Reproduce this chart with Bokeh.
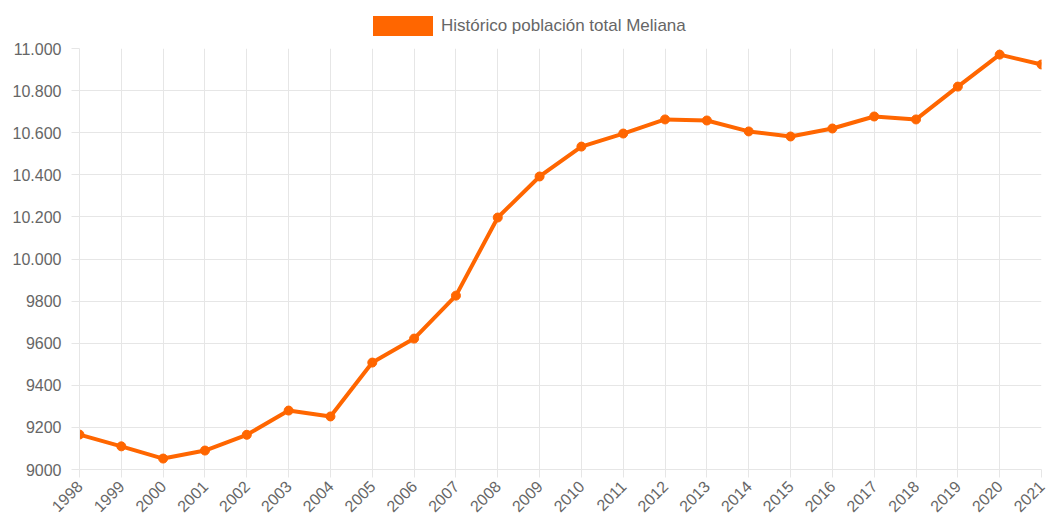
from bokeh.plotting import figure
from bokeh.layouts import column
from bokeh.models import ColumnDataSource, FixedTicker, Legend, LegendItem
from bokeh.embed import file_html
from bokeh.resources import INLINE
import math

years = [1998, 1999, 2000, 2001, 2002, 2003, 2004, 2005, 2006, 2007, 2008, 2009,
         2010, 2011, 2012, 2013, 2014, 2015, 2016, 2017, 2018, 2019, 2020, 2021]
population = [9166, 9110, 9052, 9090, 9165, 9280, 9252, 9508, 9622, 9826, 10197, 10392,
              10534, 10596, 10663, 10658, 10606, 10582, 10620, 10677, 10663, 10819, 10971, 10924]
y_ticks = [9000, 9200, 9400, 9600, 9800, 10000, 10200, 10400, 10600, 10800, 11000]
y_tick_labels = ["9000", "9200", "9400", "9600", "9800", "10.000", "10.200",
                 "10.400", "10.600", "10.800", "11.000"]
series_label = "Histórico población total Meliana"

ORANGE = "#ff6600"
TEXT = "#666666"
GRID = "#e6e6e6"
FONT = "Liberation Sans"

src = ColumnDataSource(dict(x=years, y=population))

# ---- legend strip (own small figure) ----
lg = figure(width=1048, height=42, output_backend="svg", toolbar_location=None,
            x_range=(years[0], years[-1]), y_range=(y_ticks[0], y_ticks[-1]),
            x_axis_location=None, y_axis_location=None,
            min_border_left=0, min_border_right=0, min_border_top=0, min_border_bottom=0)
lg.outline_line_color = None
lg.xgrid.visible = False
lg.ygrid.visible = False
box = lg.rect(x="x", y="y", source=src, width=0, height=0,
              fill_color=ORANGE, line_color=None)
legend = Legend(items=[LegendItem(label=series_label, renderers=[box])],
                orientation="horizontal", location=(286, 4),
                glyph_width=75, glyph_height=25, label_text_font=FONT,
                label_text_font_size="17px", label_text_color=TEXT,
                border_line_color=None, background_fill_alpha=0,
                padding=0, margin=0, spacing=0, label_standoff=1)
lg.add_layout(legend, "center")

# ---- main chart ----
p = figure(width=1048, height=478, output_backend="svg", toolbar_location=None,
           x_range=(years[0], years[-1]), y_range=(y_ticks[0], y_ticks[-1]),
           min_border_left=79, min_border_right=7, min_border_top=6, min_border_bottom=51)
p.outline_line_color = None
p.background_fill_color = "white"
p.border_fill_color = "white"

p.line("x", "y", source=src, line_color=ORANGE, line_width=4)
p.scatter("x", "y", source=src, size=9, fill_color=ORANGE, line_color=ORANGE)

p.xaxis.ticker = FixedTicker(ticks=years)
p.xaxis.major_label_overrides = {y: str(y) for y in years}
p.xaxis.major_label_orientation = math.pi / 4
p.yaxis.ticker = FixedTicker(ticks=y_ticks)
p.yaxis.major_label_overrides = dict(zip(y_ticks, y_tick_labels))

for ax in (p.xaxis[0], p.yaxis[0]):
    ax.axis_line_color = GRID
    ax.major_tick_line_color = GRID
    ax.major_tick_out = 8
    ax.major_tick_in = 0
    ax.minor_tick_line_color = None
    ax.major_label_text_font = FONT
    ax.major_label_text_font_size = "16px"
    ax.major_label_text_color = TEXT
    ax.major_label_standoff = 6
p.yaxis.major_label_standoff = 10

p.xgrid.grid_line_color = GRID
p.ygrid.grid_line_color = GRID

layout = column(lg, p, spacing=0)
open("out.html", "w").write(file_html(layout, INLINE))
